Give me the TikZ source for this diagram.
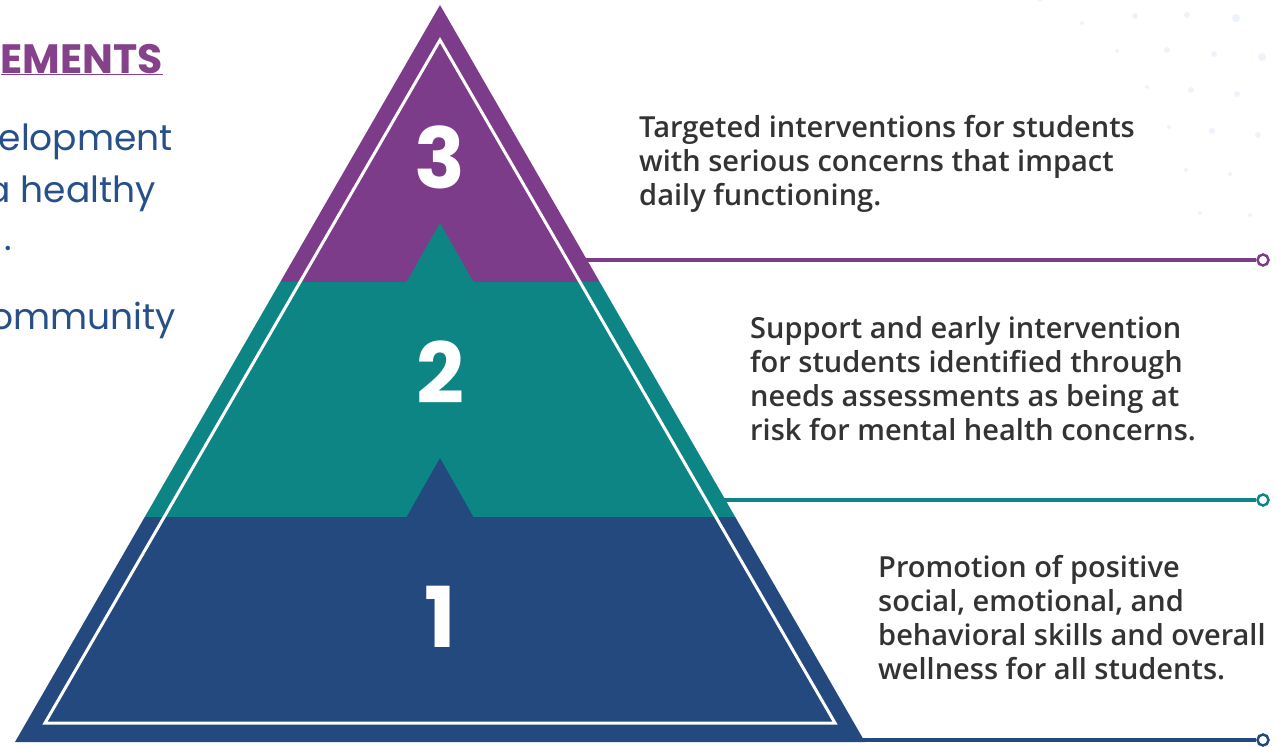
\documentclass[tikz,border=0pt]{standalone}
\usepackage{fontspec}
\setmainfont{Open Sans}
\newfontfamily\blurbfont{Open Sans}[UprightFont=* Semibold]
\newfontfamily\numfont{Poppins}
\newfontfamily\headfont{Poppins}
\definecolor{tierthree}{HTML}{7D3C89}
\definecolor{tiertwo}{HTML}{0E8585}
\definecolor{tierone}{HTML}{24497E}
\definecolor{headpurple}{HTML}{85418A}
\definecolor{bodyblue}{HTML}{27508A}
\definecolor{blurbgray}{HTML}{333333}
\definecolor{speck}{HTML}{EEF3FB}
\tikzset{
  tiernum/.style={text=white, font=\numfont\bfseries\fontsize{84}{84}\selectfont, inner sep=0pt},
  blurb/.style={text=blurbgray, font=\blurbfont\fontsize{29}{34}\selectfont, align=left, anchor=north west, inner sep=0pt},
  sidetext/.style={text=bodyblue, font=\headfont\fontsize{36}{40}\selectfont, anchor=base east, inner sep=0pt},
  ring/.style={circle, draw=#1, line width=2.5pt, fill=white, minimum size=11pt, inner sep=0pt},
  leader/.style={draw=#1, line width=3.5pt}
}
\begin{document}
\begin{tikzpicture}[x=1pt, y=-1pt]
\useasboundingbox (0,0) rectangle (1278,747);
\clip (0,0) rectangle (1278,747);

% faint specks top right
\foreach \p/\r in {(1040,0)/2,(1082,23)/2,(1135,16)/3,(1187,15)/3,(1236,18)/4,(1117,51)/2,(1167,50)/3,(1214,54)/3,(1262,57)/4,
  (1147,87)/2,(1191,90)/3,(1237,94)/3,(1169,127)/2,(1212,131)/3,(1258,135)/3,(1186,170)/2,(1230,174)/2,(1200,213)/2,(1250,215)/2}
  \fill[speck] \p circle (\r);

% left column text
\node[sidetext, text=headpurple, font=\headfont\bfseries\fontsize{41}{44}\selectfont] (head) at (163,73) {\underline{EMENTS}};
\node[sidetext] (l1) at (173,150) {elopment};
\node[sidetext] (l2) at (156,202) {a healthy};
\node[sidetext] (l3) at (12,250) {.};
\node[sidetext] (l4) at (176,329) {ommunity};

% pyramid
\coordinate (apex) at (440,5);
\coordinate (bl) at (15,742);
\coordinate (br) at (865,742);
\begin{scope}
  \clip (apex) -- (bl) -- (br) -- cycle;
  \fill[tierthree] (0,0) rectangle (1278,282);
  \fill[tiertwo] (0,282) rectangle (1278,517);
  \fill[tiertwo] (406,283) -- (440,223) -- (474,283) -- cycle;
  \fill[tierone] (0,517) rectangle (1278,747);
  \fill[tierone] (406,518) -- (440,458) -- (474,518) -- cycle;
\end{scope}
\draw[white, line width=3pt] (440,40) -- (45,723) -- (835,723) -- cycle;

\node[tiernum] (n3) at (440,157) {3};
\node[tiernum] (n2) at (440,372) {2};
\node[tiernum] (n1) at (440,617) {1};

% leaders
\coordinate (s3) at (585,260);
\coordinate (s2) at (724,500);
\coordinate (s1) at (860,740);
\node[ring=tierthree] (r3) at (1263,260) {};
\node[ring=tiertwo] (r2) at (1263,500) {};
\node[ring=tierone] (r1) at (1263,740) {};
\draw[leader=tierthree] (s3) -- (r3.west);
\draw[leader=tiertwo] (s2) -- (r2.west);
\draw[leader=tierone] (s1) -- (r1.west);

% descriptions
\node[blurb] (b3) at (639,115) {Targeted interventions for students\\with serious concerns that impact\\daily functioning.};
\node[blurb] (b2) at (750,316) {Support and early intervention\\for students identified through\\needs assessments as being at\\risk for mental health concerns.};
\node[blurb] (b1) at (878,555) {Promotion of positive\\social, emotional, and\\behavioral skills and overall\\wellness for all students.};
\end{tikzpicture}
\end{document}
